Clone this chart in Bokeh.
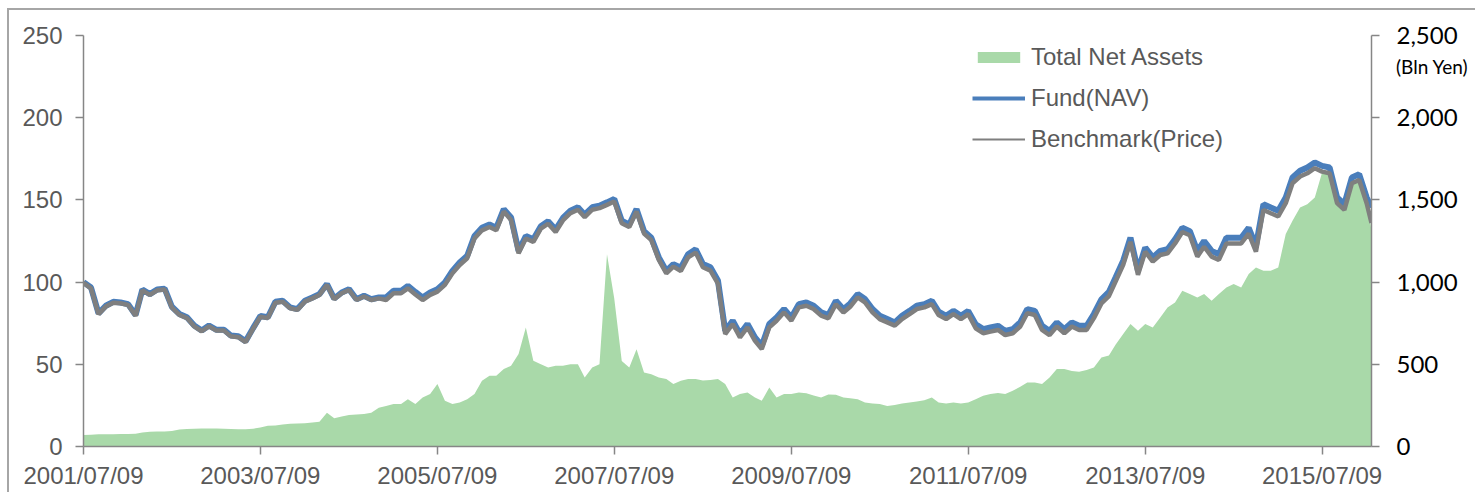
import pandas as pd
from bokeh.plotting import figure
from bokeh.layouts import column
from bokeh.models import (Range1d, LinearAxis, FixedTicker, DatetimeTickFormatter,
                          NumeralTickFormatter, Legend, LegendItem, Div, ColumnDataSource)
from bokeh.embed import file_html
from bokeh.resources import INLINE

# ---- data (monthly readings, 2001/07 .. 2016/01) ----
start = pd.Timestamp("2001-07-09")
dates = [start + pd.DateOffset(months=i) for i in range(175)] + [pd.Timestamp("2016-01-29")]

nav = [100, 96.7, 81, 85.6, 88, 87.6, 86.6, 80, 95.5, 92.7,
       95.5, 96, 85, 80.6, 78.6, 73.6, 70.6, 73.6, 71, 71,
       67.5, 67, 64, 72, 79.4, 78.6, 88, 88.6, 84.6, 83.6,
       88.6, 90.6, 92.7, 98.8, 90, 93.7, 95.7, 89.6, 91.7, 89.6,
       90.6, 90.6, 94.7, 94.7, 97.7, 94, 90.6, 93.7, 95.7, 99.8,
       106.8, 111.9, 116, 128, 133, 135, 133, 144.4, 139.3, 119,
       128, 126, 134, 137, 132, 139, 143.4, 145.5, 141, 145.5,
       146.5, 148.5, 150.5, 137.3, 135, 144.4, 131, 127, 115, 106.8,
       110.9, 108.8, 117, 120, 111, 109, 101, 70.4, 76.5, 68.4,
       74.5, 66.3, 61.3, 74.5, 78.5, 83.6, 78.5, 86.6, 87.6, 85.6,
       81.6, 80, 88.6, 83.5, 87, 92.7, 89.7, 83.6, 79.5, 77.5,
       75.5, 79.5, 82.5, 85.6, 86.6, 88.6, 82, 79.5, 82.5, 79.5,
       82.5, 74.4, 71.4, 72.4, 73.4, 70.3, 71.4, 75.5, 83.6, 82.5,
       73.4, 70.3, 75.5, 71.4, 75.5, 73.4, 73.4, 80.6, 89.5, 94,
       103, 113, 127, 107, 121, 115, 119, 120, 126, 133,
       131, 119, 125, 119, 117, 127, 127, 127, 133, 122,
       147.4, 145.4, 143.4, 151.5, 163.6, 167.7, 169.7, 172.8, 170.7, 169.7,
       151.5, 147.4, 163.6, 165.6, 151.5, 145.4]

bench = [99.5, 96.2, 80.5, 85.1, 87.5, 87.1, 86.1, 79.5, 95.0, 92.2,
         95.0, 95.5, 84.5, 80.1, 78.1, 73.1, 70.1, 73.1, 70.5, 70.5,
         67.0, 66.5, 63.5, 71.5, 78.9, 78.1, 87.5, 88.1, 84.1, 83.1,
         88.1, 90.1, 92.2, 98.3, 89.5, 93.2, 95.2, 89.1, 91.2, 89.1,
         90.1, 89.1, 93.2, 93.2, 96.2, 92.5, 89.1, 92.2, 94.2, 98.3,
         105.3, 110.4, 114.5, 126.5, 131.5, 133.5, 131.5, 142.9, 137.8, 117.5,
         126.5, 124.5, 132.5, 135.5, 130.5, 137.5, 141.9, 144.0, 139.5, 144.0,
         145.0, 147.0, 149.0, 135.8, 133.5, 142.9, 129.5, 125.5, 113.5, 105.3,
         109.4, 106.8, 115.0, 118.0, 109.0, 107.0, 99.0, 68.4, 74.5, 66.4,
         72.5, 64.3, 59.3, 72.5, 76.5, 81.6, 76.5, 84.6, 85.6, 83.6,
         79.6, 78.0, 86.6, 81.5, 85.0, 90.7, 87.7, 81.6, 77.5, 75.5,
         73.5, 77.5, 80.5, 83.6, 84.6, 86.6, 80.0, 77.5, 80.5, 77.5,
         80.5, 71.9, 68.9, 69.9, 70.9, 67.8, 68.9, 73.0, 81.1, 80.0,
         70.9, 67.8, 73.0, 68.9, 73.0, 70.9, 70.9, 78.1, 87.0, 91.5,
         100.5, 110.5, 124.5, 104.5, 118.5, 112.5, 116.5, 117.5, 123.5, 130.5,
         128.5, 115.5, 121.5, 115.5, 113.5, 123.5, 123.5, 123.5, 129.5, 118.5,
         143.9, 141.9, 139.9, 148.0, 160.1, 164.2, 166.2, 169.3, 167.2, 166.2,
         148.0, 143.9, 160.1, 162.1, 148.0, 136.0]

tna = [70, 72, 74, 75, 75, 76, 76, 78, 85, 90,
       91, 92, 95, 104, 106, 108, 110, 110, 110, 108,
       106, 105, 105, 108, 115, 126, 128, 134, 138, 140,
       142, 146, 150, 205, 172, 182, 192, 195, 198, 205,
       235, 247, 258, 258, 288, 258, 298, 319, 380, 278,
       258, 267, 288, 319, 400, 430, 430, 471, 491, 562,
       724, 521, 501, 481, 491, 491, 501, 501, 420, 481,
       501, 1170, 900, 520, 481, 592, 450, 440, 420, 410,
       380, 400, 410, 410, 401, 405, 410, 380, 298, 319,
       328, 298, 278, 359, 298, 319, 319, 328, 324, 310,
       298, 316, 315, 298, 293, 288, 268, 262, 258, 247,
       252, 262, 268, 274, 281, 298, 268, 262, 268, 262,
       268, 288, 308, 319, 325, 319, 339, 363, 389, 389,
       380, 420, 471, 471, 460, 455, 466, 481, 541, 554,
       620, 684, 745, 704, 745, 724, 785, 845, 876, 947,
       927, 906, 927, 886, 927, 967, 988, 967, 1049, 1089,
       1069, 1069, 1089, 1292, 1373, 1454, 1474, 1515, 1667, 1677,
       1555, 1454, 1596, 1636, 1535, 1312]

tick_dates = ["2001-07-09", "2003-07-09", "2005-07-09", "2007-07-09",
              "2009-07-09", "2011-07-09", "2013-07-09", "2015-07-09"]
left_ticks = [0, 50, 100, 150, 200, 250]
right_ticks = [0, 500, 1000, 1500, 2000, 2500]

src = ColumnDataSource(dict(date=dates, nav=nav, bench=bench, tna=tna))

def ms(d):
    return pd.Timestamp(d).value / 1e6

p = figure(width=1475, height=492, x_axis_type="datetime", output_backend="svg",
           toolbar_location=None,
           x_range=Range1d(ms("2001-07-09"), ms("2016-01-29")),
           y_range=Range1d(0, 250),
           min_border_left=73, min_border_right=114, min_border_top=25, min_border_bottom=56)
p.styles = {
    "padding-left": "10px", "padding-top": "10px",
    "background": ("linear-gradient(#A6A6A6,#A6A6A6) 7px 8px / 2px 100% no-repeat, "
                   "linear-gradient(#A6A6A6,#A6A6A6) 7px 8px / 100% 2px no-repeat, white"),
}
p.extra_y_ranges = {"tna": Range1d(0, 2500)}
p.xgrid.visible = False
p.ygrid.visible = False
p.outline_line_color = None
p.background_fill_color = "white"
p.border_fill_color = "white"

GRAY_AX = "#868686"
LBL = "#595959"

r_area = p.varea(x="date", y1=0, y2="tna", source=src, y_range_name="tna",
                 fill_color="#A9D9A9", fill_alpha=1.0)
r_nav = p.line(x="date", y="nav", source=src, line_color="#4A7EBB", line_width=6)
r_bench = p.line(x="date", y="bench", source=src, line_color="#7F7F7F", line_width=4.5)

# legend-only swatches (thinner, as in the reference legend); one point below the range
leg_nav = p.line(x=[dates[0]], y=[-100], line_color="#4A7EBB", line_width=4)
leg_bench = p.line(x=[dates[0]], y=[-100], line_color="#7F7F7F", line_width=2)

# x axis
xa = p.xaxis[0]
xa.ticker = FixedTicker(ticks=[ms(d) for d in tick_dates])
fmt = "%Y/%m/%d"
xa.formatter = DatetimeTickFormatter(microseconds=fmt, milliseconds=fmt, seconds=fmt,
                                     minsec=fmt, minutes=fmt, hourmin=fmt, hours=fmt,
                                     days=fmt, months=fmt, years=fmt)
# left axis
ya = p.yaxis[0]
ya.ticker = FixedTicker(ticks=left_ticks)

for ax in (xa, ya):
    ax.axis_line_color = GRAY_AX
    ax.axis_line_width = 1.5
    ax.major_tick_line_color = GRAY_AX
    ax.major_tick_line_width = 1.5
    ax.major_tick_out = 8
    ax.major_tick_in = 0
    ax.minor_tick_line_color = None
    ax.major_label_text_font = "Liberation Sans"
    ax.major_label_text_font_size = "24px"
    ax.major_label_text_color = LBL
xa.major_label_standoff = 7
ya.major_label_standoff = 13

# right axis
ra = LinearAxis(y_range_name="tna", ticker=FixedTicker(ticks=right_ticks),
                formatter=NumeralTickFormatter(format="0,0"))
ra.axis_line_color = GRAY_AX
ra.axis_line_width = 1.5
ra.major_tick_line_color = GRAY_AX
ra.major_tick_line_width = 1.5
ra.major_tick_out = 8
ra.major_tick_in = 0
ra.minor_tick_line_color = None
ra.major_label_text_font = "Lato"
ra.major_label_text_font_size = "24px"
ra.major_label_text_color = "#000000"
ra.major_label_standoff = 17
p.add_layout(ra, "right")

legend = Legend(items=[LegendItem(label="Total Net Assets", renderers=[r_area]),
                       LegendItem(label="Fund(NAV)", renderers=[leg_nav]),
                       LegendItem(label="Benchmark(Price)", renderers=[leg_bench])],
                location=(889, 293), orientation="vertical",
                label_text_font="Liberation Sans", label_text_font_size="24px",
                label_text_color=LBL, glyph_width=53, glyph_height=14,
                label_height=27, spacing=13, padding=0, margin=0,
                label_standoff=6, border_line_color=None, background_fill_alpha=0)
p.add_layout(legend)

unit_div = Div(text="(Bln Yen)",
               styles={"position": "absolute", "left": "1391px", "top": "51px",
                       "font-family": "Lato", "font-size": "19px", "color": "#000000",
                       "white-space": "nowrap", "line-height": "22px", "z-index": "5"})

layout = column(p, unit_div)
open("out.html", "w").write(file_html(layout, INLINE))
